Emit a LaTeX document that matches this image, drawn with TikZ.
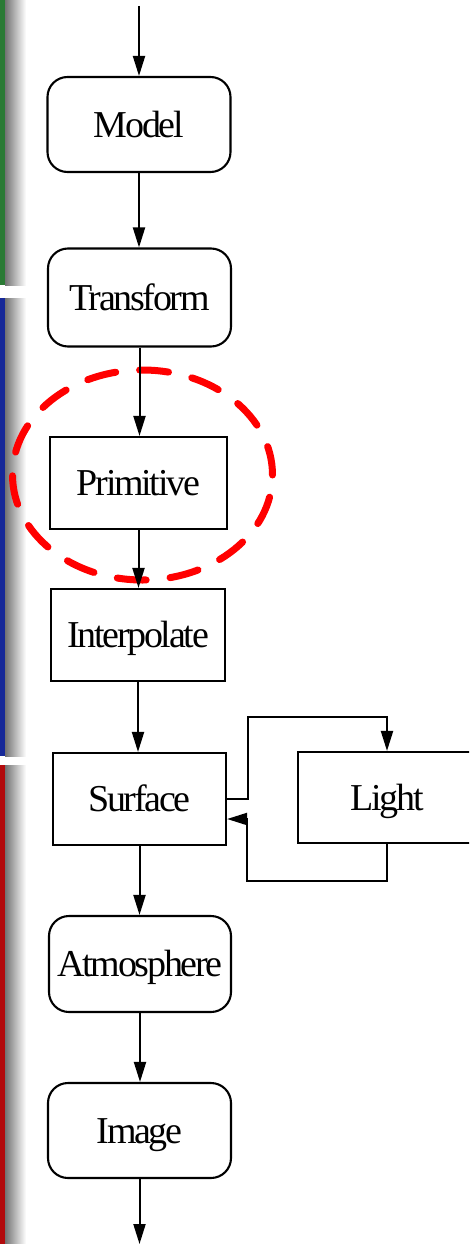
\documentclass[tikz,border=0pt]{standalone}
\usepackage{fontspec}
\setmainfont{Liberation Serif}[LetterSpace=-6]
\usetikzlibrary{arrows.meta}

\definecolor{bargreen}{RGB}{42,122,52}
\definecolor{barblue}{RGB}{22,40,152}
\definecolor{barred}{RGB}{178,10,12}
\definecolor{ringred}{RGB}{255,0,0}

\tikzset{
  stagebox/.style={draw, line width=2.1pt, fill=white, inner sep=0pt,
    font=\fontsize{38}{40}\selectfont, text height=25pt, text depth=0pt},
  roundbox/.style={stagebox, rounded corners=20pt},
  flow/.style={line width=2pt, -{Triangle[length=20pt,width=12pt]}},
  ring/.style={draw=ringred, line width=7pt, line cap=round, dash pattern=on 29pt off 24pt},
  barshadow/.style={left color=black!55, right color=white, draw=none}
}

\begin{document}
\begin{tikzpicture}[x=1pt,y=-1pt]
  \useasboundingbox (0,0) rectangle (469,1244);
  \clip (0,0) rectangle (469,1244);

  % coloured stage bars on the left edge, with their soft shadow
  \shade[barshadow] (5,0) rectangle (26,285);
  \shade[barshadow] (5,298) rectangle (26,756);
  \shade[barshadow] (5,765) rectangle (26,1244);
  \fill[bargreen] (0,0) rectangle (5,285);
  \fill[barblue]  (0,298) rectangle (5,756);
  \fill[barred]   (0,765) rectangle (5,1244);

  % highlight ring around the primitive stage
  \draw[ring] (142.5,475) ellipse [x radius=130pt, y radius=105pt];

  % pipeline stages
  \node[roundbox, minimum width=183pt, minimum height=95pt] (model)     at (139,124.5) {Model};
  \node[roundbox, minimum width=183pt, minimum height=98pt] (transform) at (139.5,297.5) {Transform};
  \node[stagebox, minimum width=177pt, minimum height=92pt] (primitive) at (138.5,483) {Primitive};
  \node[stagebox, minimum width=174pt, minimum height=92pt] (interp)    at (138,635) {Interpolate};
  \node[stagebox, minimum width=173pt, minimum height=92pt] (surface)   at (139.5,799) {Surface};
  \node[stagebox, minimum width=178pt, minimum height=91pt] (light)     at (387,797.5) {Light};
  \node[roundbox, minimum width=182pt, minimum height=96pt] (atmos)     at (140,964) {Atmosphere};
  \node[roundbox, minimum width=183pt, minimum height=95pt] (image)     at (139.5,1130.5) {Image};

  \coordinate (in)  at (139,6);
  \coordinate (out) at (139,1244);

  % main flow
  \draw[flow] (in) -- (in |- model.north);
  \draw[flow] (model.south)     -- (model.south |- transform.north);
  \draw[flow] (transform.south) -- (transform.south |- primitive.north);
  \draw[flow] (primitive.south) -- (primitive.south |- interp.north);
  \draw[flow] (interp.south)    -- (interp.south |- surface.north);
  \draw[flow] (surface.south)   -- (surface.south |- atmos.north);
  \draw[flow] (atmos.south)     -- (atmos.south |- image.north);
  \draw[flow] (image.south)     -- (image.south |- out);

  % surface <-> light loop
  \coordinate (lt1) at (248,799);
  \coordinate (lt2) at (248,717);
  \draw[flow] (surface.east) -- (lt1) -- (lt2) -- (lt2 -| light.north) -- (light.north);
  \coordinate (lb1) at (387,881);
  \coordinate (lb2) at (247,881);
  \coordinate (ret) at ([yshift=-20pt]surface.east);
  \draw[flow] (light.south) -- (lb1) -- (lb2) -- (lb2 |- ret) -- (ret);
\end{tikzpicture}
\end{document}
